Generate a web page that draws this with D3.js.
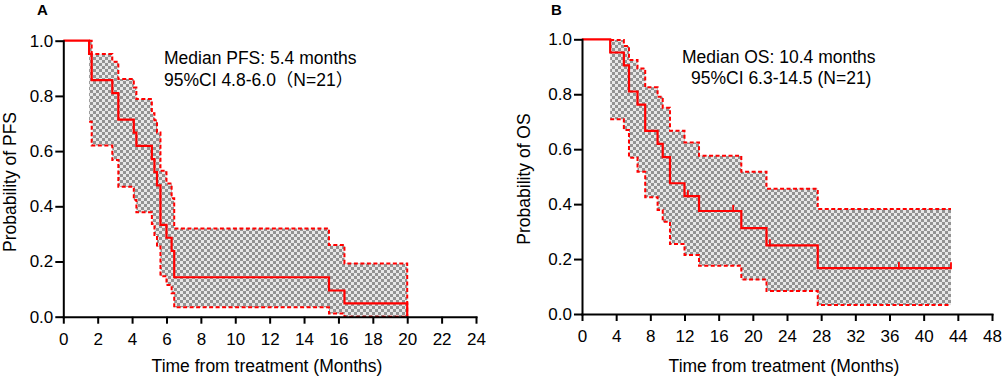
<!DOCTYPE html>
<html>
<head>
<meta charset="utf-8">
<script src="https://cdn.jsdelivr.net/npm/d3@7"></script>
<style>
  body { margin: 0; background: #fff; }
  text { font-family: "Liberation Sans", Arial, "Noto Sans CJK SC", sans-serif; fill: #000; }
</style>
</head>
<body>
<svg id="chart" width="1003" height="378"></svg>
<script>
// ---- panel A: progression-free survival ----
var pfsTimes = [0, 1.5, 1.65, 2.85, 3.2, 4.1, 4.25, 5.15, 5.3, 5.45, 5.65, 6.0, 6.3, 6.45, 15.45, 16.35, 20];
var pfsSurv  = [1, 0.952, 0.857, 0.810, 0.714, 0.667, 0.619, 0.571, 0.524, 0.476, 0.333, 0.286, 0.238, 0.143, 0.095, 0.048, 0];
var pfsUpper = [1, 1, 0.952, 0.924, 0.861, 0.83, 0.789, 0.737, 0.712, 0.667, 0.529, 0.483, 0.429, 0.32, 0.26, 0.193, 0];
var pfsLower = [1, 0.706, 0.62, 0.568, 0.471, 0.423, 0.378, 0.336, 0.296, 0.254, 0.147, 0.115, 0.085, 0.034, 0.012, 0, 0];
var pfsCensor = [];
var pfsXTicks = [0, 2, 4, 6, 8, 10, 12, 14, 16, 18, 20, 22, 24];

// ---- panel B: overall survival ----
var osTimes = [0, 3.3, 4.9, 5.5, 6.5, 7.4, 8.85, 9.45, 10.3, 12.0, 13.7, 18.65, 21.6, 27.6, 43.2];
var osSurv  = [1, 0.952, 0.905, 0.810, 0.762, 0.667, 0.619, 0.571, 0.476, 0.429, 0.375, 0.3125, 0.25, 0.167, 0.167];
var osUpper = [1, 0.997, 0.976, 0.925, 0.894, 0.825, 0.791, 0.751, 0.667, 0.624, 0.576, 0.518, 0.456, 0.382, 0.382];
var osLower = [1, 0.709, 0.67, 0.569, 0.518, 0.425, 0.379, 0.336, 0.255, 0.215, 0.176, 0.126, 0.084, 0.033, 0.033];
var osCensor = [12.4, 17.7, 22.0, 37.1, 43.2];
var osXTicks = [0, 4, 8, 12, 16, 20, 24, 28, 32, 36, 40, 44, 48];

var yTicks = [0, 0.2, 0.4, 0.6, 0.8, 1.0];

var svg = d3.select("#chart");

// checkerboard fill used for the confidence band
var defs = svg.append("defs");
var pat = defs.append("pattern")
    .attr("id", "checker")
    .attr("patternUnits", "userSpaceOnUse")
    .attr("width", 6).attr("height", 6);
pat.append("rect").attr("width", 6).attr("height", 6).attr("fill", "#e8e8e8");
pat.append("rect").attr("width", 3).attr("height", 3).attr("fill", "#939393");
pat.append("rect").attr("x", 3).attr("y", 3).attr("width", 3).attr("height", 3).attr("fill", "#939393");

function stepValue(times, vals, t){
    var v = vals[0];
    for (var i = 0; i < times.length; i++){
        if (times[i] <= t) v = vals[i];
    }
    return v;
}

function drawPanel(p){
    var g = svg.append("g");
    var x = d3.scaleLinear().domain([0, p.xMax]).range([p.left, p.right]);
    var y = d3.scaleLinear().domain([0, 1]).range([p.bottom, p.top]);

    var pts = p.times.map(function(t, i){
        return {t: t, s: p.surv[i], u: p.upper[i], l: p.lower[i]};
    });

    // confidence band
    g.append("path")
        .datum(pts)
        .attr("fill", "url(#checker)")
        .attr("d", d3.area().curve(d3.curveStepAfter)
            .x(function(d){ return x(d.t); })
            .y0(function(d){ return y(d.l); })
            .y1(function(d){ return y(d.u); }));

    // dashed CI limits
    ["u", "l"].forEach(function(k){
        g.append("path")
            .datum(pts.filter(function(d){ return d.t >= p.times[1]; }))
            .attr("fill", "none")
            .attr("stroke", "#ff0000")
            .attr("stroke-width", 2)
            .attr("stroke-dasharray", "4,2.5")
            .attr("d", d3.line().curve(d3.curveStepAfter)
                .x(function(d){ return x(d.t); })
                .y(function(d){ return y(d[k]); }));
    });

    // survival curve
    g.append("path")
        .datum(pts)
        .attr("fill", "none")
        .attr("stroke", "#ff0000")
        .attr("stroke-width", 2.2)
        .attr("d", d3.line().curve(d3.curveStepAfter)
            .x(function(d){ return x(d.t); })
            .y(function(d){ return y(d.s); }));

    // censor ticks
    g.selectAll(".censor")
        .data(p.censor)
        .enter().append("line")
        .attr("class", "censor")
        .attr("x1", function(d){ return x(d); })
        .attr("x2", function(d){ return x(d); })
        .attr("y1", function(d){ return y(stepValue(p.times, p.surv, d)) + 1; })
        .attr("y2", function(d){ return y(stepValue(p.times, p.surv, d)) - 6; })
        .attr("stroke", "#ff0000")
        .attr("stroke-width", 1.8);

    // axes
    var xAxis = g.append("g")
        .attr("transform", "translate(0," + p.bottom + ")")
        .call(d3.axisBottom(x).tickValues(p.xTicks).tickFormat(d3.format("d"))
            .tickSize(7).tickSizeOuter(0).tickPadding(9));
    var yAxis = g.append("g")
        .attr("transform", "translate(" + p.left + ",0)")
        .call(d3.axisLeft(y).tickValues(yTicks).tickFormat(d3.format(".1f"))
            .tickSize(8).tickSizeOuter(0).tickPadding(2));
    [xAxis, yAxis].forEach(function(a){
        a.selectAll("path, line").attr("stroke", "#000").attr("stroke-width", 2);
        a.selectAll("text").style("font-size", "17px").attr("fill", "#000");
        a.select(".domain").attr("stroke-linecap", "square");
    });

    // axis titles
    g.append("text")
        .attr("x", p.xLabelX)
        .attr("y", 372)
        .attr("text-anchor", "middle")
        .style("font-size", "17.5px")
        .text("Time from treatment (Months)");
    g.append("text")
        .attr("transform", "translate(" + p.yLabelX + "," + p.yLabelY + ") rotate(-90)")
        .attr("text-anchor", "middle")
        .style("font-size", "17.5px")
        .text(p.yLabel);

    // panel letter
    g.append("text")
        .attr("x", p.letterX).attr("y", 15)
        .style("font-size", "15px").style("font-weight", "bold")
        .text(p.letter);

    // annotation
    p.note.forEach(function(line, i){
        g.append("text")
            .attr("x", p.noteX[i]).attr("y", p.noteY[i])
            .style("font-size", "17.5px")
            .text(line);
    });
}

drawPanel({
    times: pfsTimes, surv: pfsSurv, upper: pfsUpper, lower: pfsLower, censor: pfsCensor,
    xTicks: pfsXTicks, xMax: 24,
    left: 63.3, right: 476, top: 40.7, bottom: 316.7,
    xLabelX: 267, yLabel: "Probability of PFS", yLabelX: 16, yLabelY: 182,
    letter: "A", letterX: 37,
    note: ["Median PFS: 5.4 months", " 95%CI 4.8-6.0\uff08N=21\uff09"],
    noteX: [164, 164], noteY: [64, 86]
});

drawPanel({
    times: osTimes, surv: osSurv, upper: osUpper, lower: osLower, censor: osCensor,
    xTicks: osXTicks, xMax: 48,
    left: 582, right: 992, top: 39.3, bottom: 314,
    xLabelX: 784, yLabel: "Probability of OS", yLabelX: 530, yLabelY: 179,
    letter: "B", letterX: 551,
    note: ["Median OS: 10.4 months", "95%CI 6.3-14.5 (N=21)"],
    noteX: [682, 691], noteY: [63, 84]
});
</script>
</body>
</html>
